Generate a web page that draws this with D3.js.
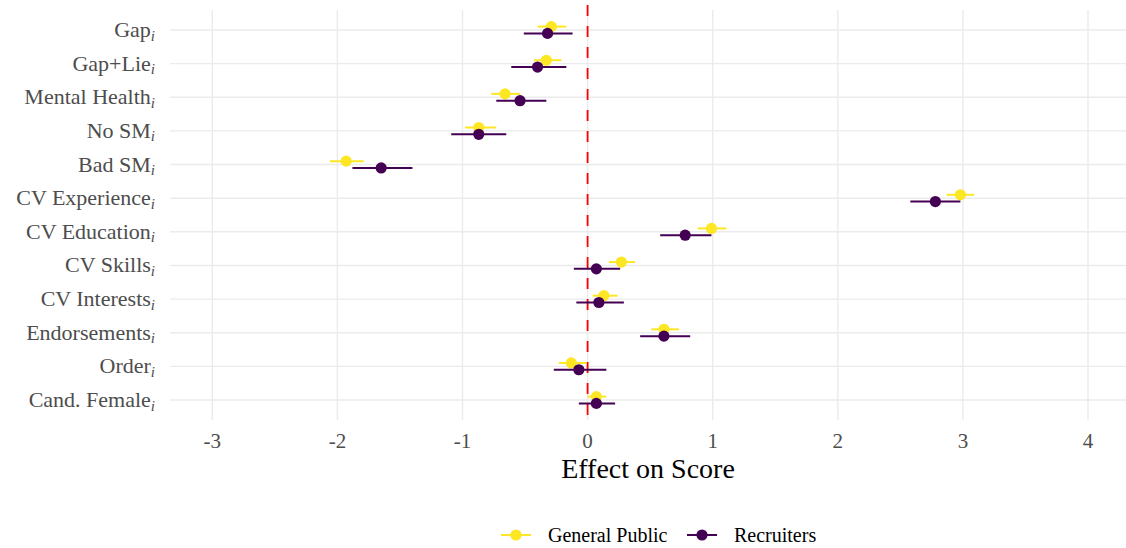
<!DOCTYPE html>
<html>
<head>
<meta charset="utf-8">
<script src="https://cdn.jsdelivr.net/npm/d3@7"></script>
<style>
  html, body { margin: 0; padding: 0; background: #ffffff; }
  svg { display: block; }
  text { font-family: "Liberation Serif", "DejaVu Serif", serif; }
</style>
</head>
<body>
<svg id="chart" width="1126" height="548"></svg>
<script>
// ---- data ----
const categories = ["Gap", "Gap+Lie", "Mental Health", "No SM", "Bad SM", "CV Experience",
  "CV Education", "CV Skills", "CV Interests", "Endorsements", "Order", "Cand. Female"];
const seriesNames = ["General Public", "Recruiters"];
const seriesColors = ["#FDE725", "#440154"];

const publicEst = [-0.29, -0.33, -0.66, -0.87, -1.93, 2.98, 0.99, 0.27, 0.13, 0.61, -0.13, 0.07];
const publicLow = [-0.40, -0.43, -0.77, -0.98, -2.06, 2.87, 0.88, 0.17, 0.04, 0.51, -0.23, 0.00];
const publicHigh = [-0.17, -0.21, -0.54, -0.73, -1.79, 3.09, 1.11, 0.38, 0.24, 0.73, -0.01, 0.15];

const recruiterEst = [-0.32, -0.40, -0.54, -0.87, -1.65, 2.78, 0.78, 0.07, 0.09, 0.61, -0.07, 0.07];
const recruiterLow = [-0.51, -0.61, -0.73, -1.09, -1.88, 2.58, 0.58, -0.11, -0.09, 0.42, -0.27, -0.07];
const recruiterHigh = [-0.12, -0.17, -0.33, -0.65, -1.40, 2.98, 0.99, 0.26, 0.29, 0.82, 0.15, 0.22];

const xTicks = [-3, -2, -1, 0, 1, 2, 3, 4];
const xTickLabels = ["-3", "-2", "-1", "0", "1", "2", "3", "4"];
const xTitle = "Effect on Score";

// ---- layout ----
const svg = d3.select("#chart");
const panel = { left: 170, right: 1126, top: 10, bottom: 420 };

const x = d3.scaleLinear().domain([-3, 4]).range([212.3, 1088]);
const y = d3.scalePoint().domain(categories).range([30, 400]);
const dodge = d3.scalePoint().domain(seriesNames).range([-3.4, 3.4]);

const series = [
  { name: seriesNames[0], color: seriesColors[0], est: publicEst, lo: publicLow, hi: publicHigh },
  { name: seriesNames[1], color: seriesColors[1], est: recruiterEst, lo: recruiterLow, hi: recruiterHigh }
];

// grid
const grid = svg.append("g");
grid.selectAll("line.h").data(categories).enter().append("line")
  .attr("x1", panel.left).attr("x2", panel.right)
  .attr("y1", d => y(d)).attr("y2", d => y(d))
  .attr("stroke", "#EBEBEB").attr("stroke-width", 1.4);
grid.selectAll("line.v").data(xTicks).enter().append("line")
  .attr("x1", d => x(d)).attr("x2", d => x(d))
  .attr("y1", panel.top).attr("y2", panel.bottom)
  .attr("stroke", "#EBEBEB").attr("stroke-width", 1.4);

// zero reference line
svg.append("line")
  .attr("x1", x(0)).attr("x2", x(0))
  .attr("y1", panel.top - 5).attr("y2", panel.bottom)
  .attr("stroke", "#FF0000").attr("stroke-width", 1.8)
  .attr("stroke-dasharray", "11,10");

// point ranges
series.forEach(s => {
  const g = svg.append("g");
  const rows = categories.map((c, i) => ({ c, est: s.est[i], lo: s.lo[i], hi: s.hi[i] }));
  g.selectAll("line").data(rows).enter().append("line")
    .attr("x1", d => x(d.lo)).attr("x2", d => x(d.hi))
    .attr("y1", d => y(d.c) + dodge(s.name)).attr("y2", d => y(d.c) + dodge(s.name))
    .attr("stroke", s.color).attr("stroke-width", 2);
  g.selectAll("circle").data(rows).enter().append("circle")
    .attr("cx", d => x(d.est)).attr("cy", d => y(d.c) + dodge(s.name))
    .attr("r", 5.6).attr("fill", s.color);
});

// y axis labels with italic subscript i
const yl = svg.append("g");
categories.forEach(c => {
  const t = yl.append("text")
    .attr("x", 155).attr("y", y(c) + 7)
    .attr("text-anchor", "end")
    .attr("fill", "#4D4D4D")
    .attr("font-size", 22);
  t.append("tspan").text(c);
  t.append("tspan").attr("dy", 3.5).attr("font-size", 15).attr("font-style", "italic").text("i");
});

// x tick labels
svg.append("g").selectAll("text").data(xTicks).enter().append("text")
  .attr("x", d => x(d)).attr("y", 448)
  .attr("text-anchor", "middle")
  .attr("fill", "#4D4D4D")
  .attr("font-size", 21)
  .text((d, i) => xTickLabels[i]);

// x title
svg.append("text")
  .attr("x", (panel.left + panel.right) / 2).attr("y", 478)
  .attr("text-anchor", "middle")
  .attr("fill", "#000000")
  .attr("font-size", 28)
  .text(xTitle);

// legend
const legendX = [501, 687];
const leg = svg.append("g");
series.forEach((s, i) => {
  const lx = legendX[i];
  leg.append("line").attr("x1", lx).attr("x2", lx + 30).attr("y1", 535).attr("y2", 535)
    .attr("stroke", s.color).attr("stroke-width", 2);
  leg.append("circle").attr("cx", lx + 15).attr("cy", 535).attr("r", 5.6).attr("fill", s.color);
  leg.append("text").attr("x", lx + 47).attr("y", 542)
    .attr("fill", "#000000").attr("font-size", 20)
    .text(s.name);
});
</script>
</body>
</html>
